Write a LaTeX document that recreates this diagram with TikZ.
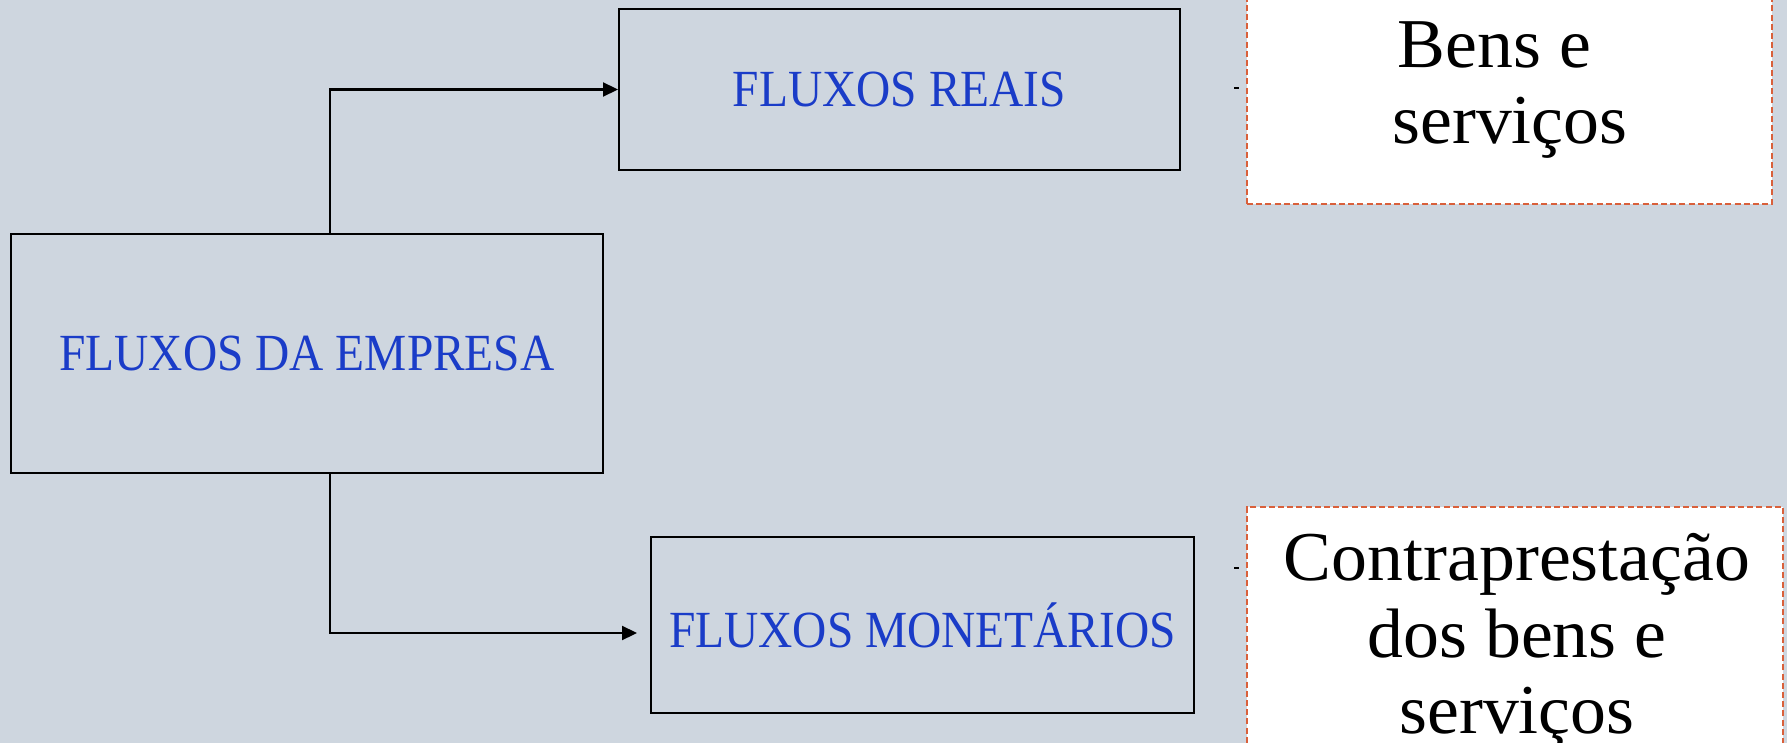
\documentclass[tikz,border=0pt]{standalone}
\usepackage{fontspec}
\setmainfont{Liberation Serif}
\newfontfamily\notefont[FakeStretch=1.025]{Liberation Serif}
\usepackage{graphicx}
\usetikzlibrary{arrows.meta,calc}
\definecolor{bgcol}{HTML}{CED6DF}
\definecolor{fluxblue}{HTML}{1A3CC8}
\definecolor{dashred}{HTML}{D9603B}
\begin{document}
\begin{tikzpicture}[x=0.5pt,y=-0.5pt,
  fluxbox/.style n args={2}{draw=black,line width=1pt,minimum width=#1,minimum height=#2,
    inner sep=0pt,text=fluxblue,font=\fontsize{23.7}{26}\selectfont},
  notebox/.style n args={2}{draw=dashred,fill=white,line width=0.8pt,
    dash pattern=on 3pt off 1.6pt,minimum width=#1,minimum height=#2,inner sep=0pt},
  notetext/.style={inner sep=0pt,align=center,text=black,font=\notefont\fontsize{35}{38.3}\selectfont},
  arr/.style={line width=1.1pt,-{Triangle[length=7.5pt,width=7pt]}},
  stub/.style={line width=1pt}]
\useasboundingbox (0,0) rectangle (1787,743);
\clip (0,0) rectangle (1787,743);
\fill[bgcol] (0,0) rectangle (1787,743);

\node[fluxbox={296pt}{119.5pt}] (emp) at (307,353.5) {\scalebox{1}[1.1]{FLUXOS DA EMPRESA}};
\node[fluxbox={280.5pt}{80.5pt}] (reais) at (899.5,89.5) {\scalebox{1}[1.1]{FLUXOS REAIS}};
\node[fluxbox={271.5pt}{88pt}] (mon) at (922.5,625) {\scalebox{1}[1.1]{FLUXOS MONETÁRIOS}};

\draw[arr] ([xshift=11.5pt]emp.north) |- (reais.west);
\draw[arr] ([xshift=11.5pt]emp.south) |- ([xshift=-6.5pt,yshift=-4pt]mon.west);

\node[notebox={262.5pt}{107pt}] (bens) at (1509.5,97) {};
\node[notetext,anchor=north] (benstxt) at (1510,21) {Bens e\hspace*{0.45em}\\serviços};

\node[notebox={268pt}{126.5pt}] (contra) at (1515,633.5) {};
\node[notetext,anchor=north] (contratxt) at (1517,533) {Contraprestação\\dos bens e\\serviços};

\coordinate (s1) at (1234,88);
\coordinate (s2) at (1234,568);
\draw[stub] (s1) -- ++(5,0);
\draw[stub] (s2) -- ++(5,0);
\end{tikzpicture}
\end{document}
